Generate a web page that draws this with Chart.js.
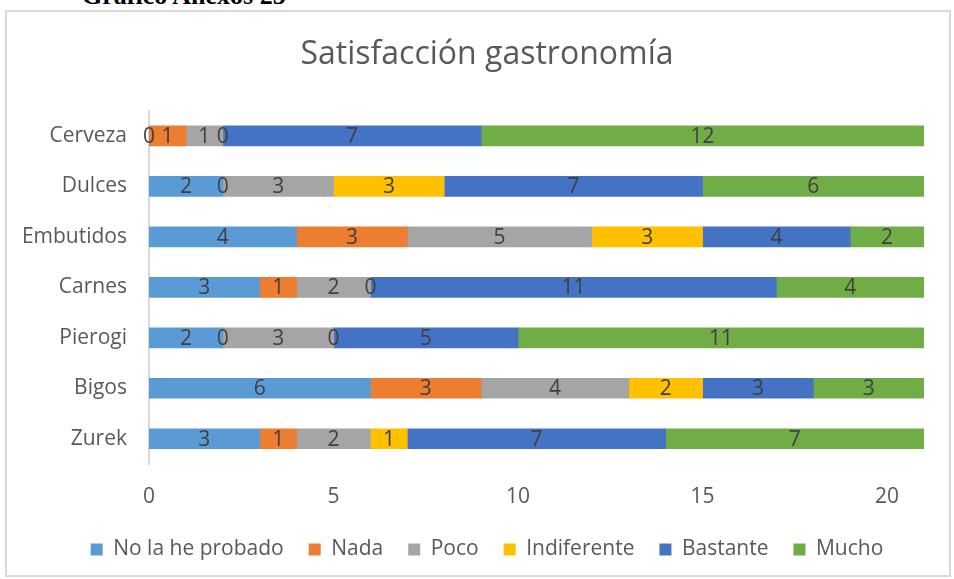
<!DOCTYPE html>
<html>
<head>
<meta charset="utf-8">
<script src="https://cdn.jsdelivr.net/npm/chart.js@4/dist/chart.umd.min.js"></script>
<style>
    html, body { margin: 0; padding: 0; background: #fff; }
    body { width: 954px; height: 579px; position: relative; overflow: hidden; }
    #heading {
        position: absolute; left: 82px; top: -17px; white-space: nowrap;
        font-family: "Liberation Serif", serif; font-weight: bold; font-size: 26px; line-height: 26px;
        color: #000;
    }
    #frame {
        position: absolute; left: 5px; top: 10px; width: 942px; height: 563px;
        border: 2px solid #d9d9d9; pointer-events: none;
    }
    /* el lienzo es más ancho que la ventana para centrar título y leyenda como en el original */
    #wrap { position: absolute; left: 0; top: 0; width: 994px; height: 579px; }
</style>
</head>
<body>
<div id="heading">Gráfico Anexos 25</div>
<div id="frame"></div>
<div id="wrap"><canvas id="chart"></canvas></div>
<script>
// Datos del gráfico
const categorias = ['Cerveza', 'Dulces', 'Embutidos', 'Carnes', 'Pierogi', 'Bigos', 'Zurek'];
const noLaHeProbado = [0, 2, 4, 3, 2, 6, 3];
const nada = [1, 0, 3, 1, 0, 3, 1];
const poco = [1, 3, 5, 2, 3, 4, 2];
const indiferente = [0, 3, 3, 0, 0, 2, 1];
const bastante = [7, 7, 4, 11, 5, 3, 7];
const mucho = [12, 6, 2, 4, 11, 3, 7];
const ticksX = [0, 5, 10, 15, 20];

const fuente = '"Open Sans", "DejaVu Sans", sans-serif';

// Etiquetas de valor en el centro de cada segmento
const etiquetasPlugin = {
    id: 'etiquetas',
    afterDatasetsDraw(chart) {
        const ctx = chart.ctx;
        ctx.save();
        ctx.font = '21px ' + fuente;
        ctx.fillStyle = '#404040';
        ctx.textAlign = 'center';
        ctx.textBaseline = 'middle';
        chart.data.datasets.forEach((ds, i) => {
            const meta = chart.getDatasetMeta(i);
            meta.data.forEach((bar, j) => {
                const p = bar.getCenterPoint();
                ctx.fillText(String(ds.data[j]), p.x, p.y + 1);
            });
        });
        ctx.restore();
    }
};

function serie(label, data, color) {
    return { label: label, data: data, backgroundColor: color, borderWidth: 0, barThickness: 20 };
}

new Chart(document.getElementById('chart'), {
    type: 'bar',
    data: {
        labels: categorias,
        datasets: [
            serie('No la he probado', noLaHeProbado, '#5B9BD5'),
            serie('Nada', nada, '#ED7D31'),
            serie('Poco', poco, '#A5A5A5'),
            serie('Indiferente', indiferente, '#FFC000'),
            serie('Bastante', bastante, '#4472C4'),
            serie('Mucho', mucho, '#70AD47')
        ]
    },
    options: {
        indexAxis: 'y',
        responsive: true,
        maintainAspectRatio: false,
        animation: false,
        layout: { padding: { left: 10, right: 30, top: 20, bottom: 9 } },
        plugins: {
            title: {
                display: true,
                text: 'Satisfacción gastronomía',
                color: '#595959',
                font: { family: fuente, size: 32, weight: 'normal' },
                padding: { top: 16, bottom: 36.3 }
            },
            legend: {
                position: 'bottom',
                labels: {
                    color: '#595959',
                    font: { family: fuente, size: 21 },
                    boxWidth: 12,
                    boxHeight: 12,
                    padding: 25
                }
            },
            tooltip: { enabled: false }
        },
        scales: {
            x: {
                stacked: true,
                min: 0,
                max: 21,
                afterBuildTicks(scale) {
                    scale.ticks = ticksX.map(v => ({ value: v }));
                },
                afterFit(scale) { scale.height = 50; },
                grid: { display: false, drawTicks: false },
                border: { display: false },
                ticks: { color: '#595959', font: { family: fuente, size: 21 }, padding: 20 }
            },
            y: {
                stacked: true,
                afterFit(scale) { scale.width = 139; },
                grid: { display: false, drawTicks: false },
                border: { display: true, color: '#d9d9d9', width: 2 },
                ticks: { color: '#595959', font: { family: fuente, size: 21 }, padding: 22 }
            },
            // eje vacío a la derecha: solo reserva espacio
            margen: {
                type: 'category',
                position: 'right',
                afterFit(scale) { scale.width = 40; },
                grid: { display: false, drawTicks: false },
                border: { display: false },
                ticks: { display: false }
            }
        }
    },
    plugins: [etiquetasPlugin]
});
</script>
</body>
</html>
